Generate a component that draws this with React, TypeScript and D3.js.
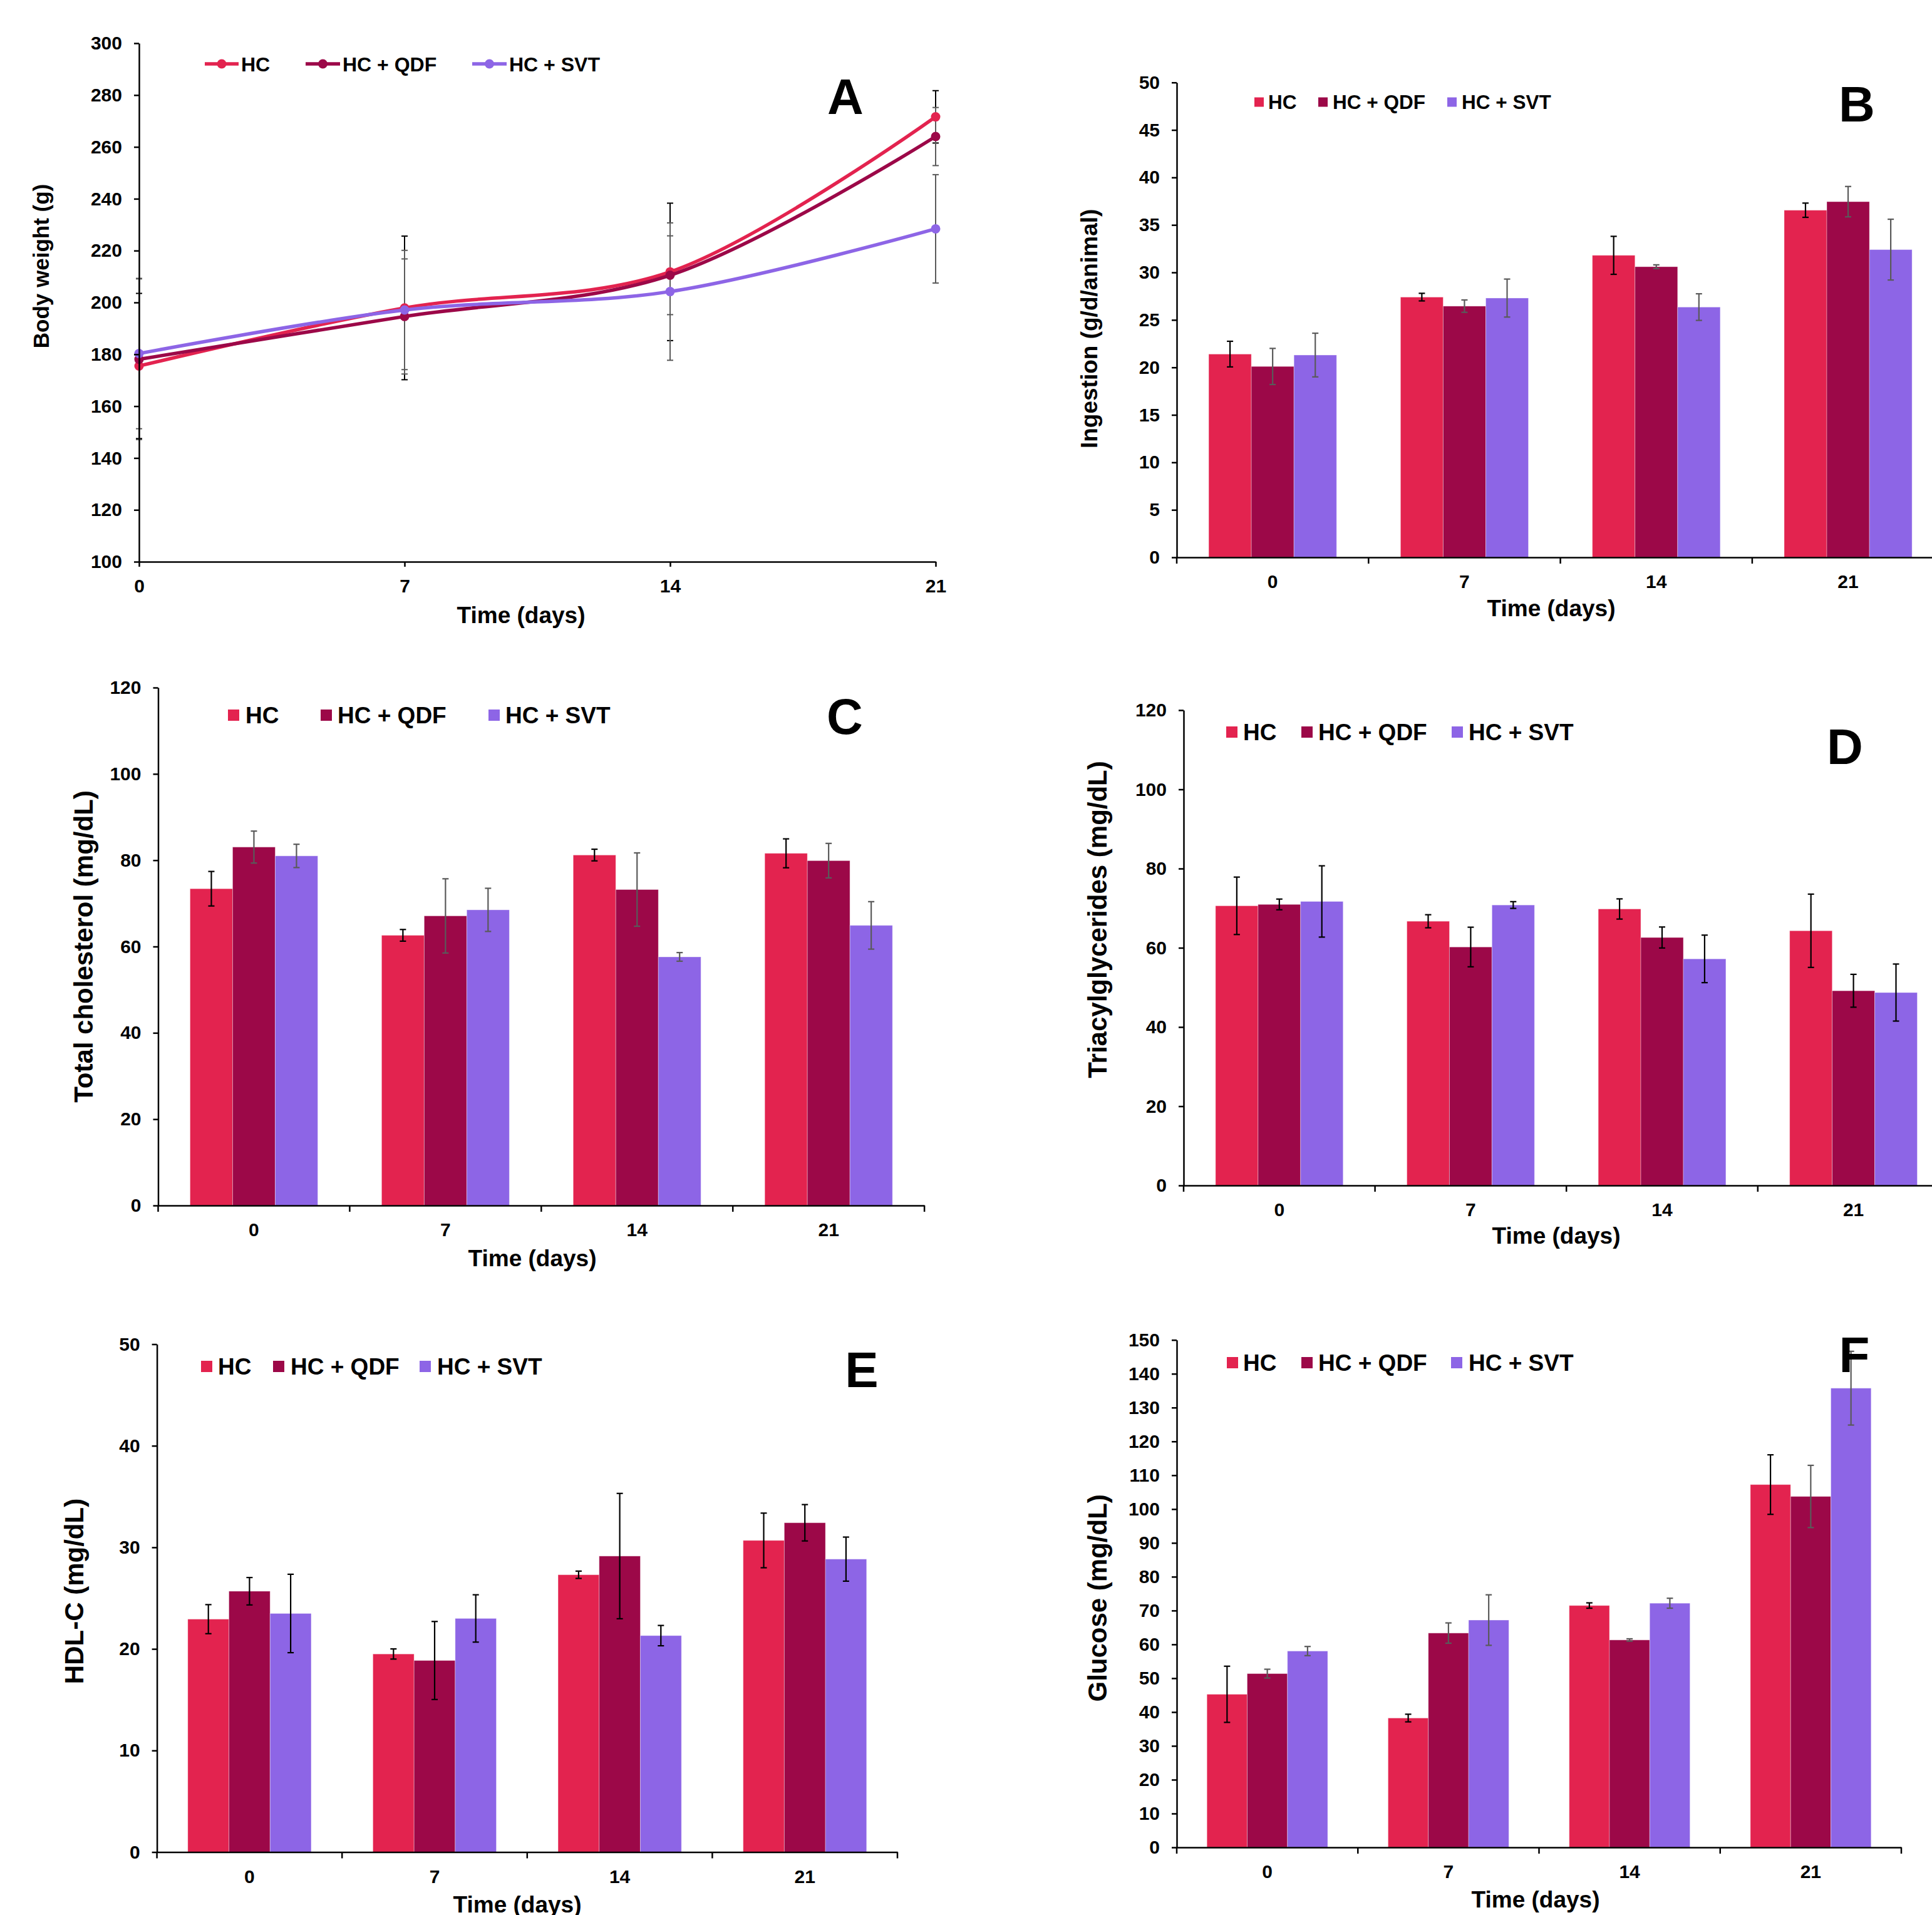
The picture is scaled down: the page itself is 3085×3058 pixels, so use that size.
import * as d3 from 'd3'
import { useEffect, useRef } from 'react'

const days = ['0', '7', '14', '21']
const dayNums = [0, 7, 14, 21]
const groups = ['HC', 'HC + QDF', 'HC + SVT']
const colors = ['#E3234F', '#9C0848', '#8D65E6']

// A - body weight (g)
const weightHC = [175.5, 197.9, 211.8, 271.6]
const weightQDF = [178.1, 194.6, 210.5, 264]
const weightSVT = [180.3, 197.1, 204.2, 228.4]
const weightErrHC = [28, 27.7, 26.5, 10.1]
const weightErrQDF = [31, 22.2, 15.2, 11.2]
const weightErrSVT = [29, 23, 26.5, 20.9]

// B - ingestion (g/d/animal)
const ingHC = [21.4, 27.4, 31.8, 36.55]
const ingQDF = [20.1, 26.45, 30.6, 37.45]
const ingSVT = [21.3, 27.3, 26.35, 32.4]
const ingErrHC = [1.35, 0.4, 2.0, 0.75]
const ingErrQDF = [1.9, 0.65, 0.2, 1.6]
const ingErrSVT = [2.3, 2.0, 1.4, 3.2]

// C - total cholesterol (mg/dL)
const cholHC = [73.4, 62.6, 81.2, 81.6]
const cholQDF = [83.05, 67.1, 73.2, 79.9]
const cholSVT = [81.0, 68.5, 57.6, 64.9]
const cholErrHC = [4.0, 1.35, 1.35, 3.35]
const cholErrQDF = [3.7, 8.6, 8.5, 4.0]
const cholErrSVT = [2.7, 5.0, 1.0, 5.5]

// D - triacylglycerides (mg/dL)
const tagHC = [70.6, 66.7, 69.8, 64.3]
const tagQDF = [70.95, 60.2, 62.6, 49.15]
const tagSVT = [71.7, 70.8, 57.2, 48.7]
const tagErrHC = [7.25, 1.65, 2.55, 9.25]
const tagErrQDF = [1.35, 5.0, 2.65, 4.15]
const tagErrSVT = [9.0, 0.85, 6.0, 7.2]

// E - HDL-C (mg/dL)
const hdlHC = [22.93, 19.5, 27.3, 30.68]
const hdlQDF = [25.68, 18.86, 29.14, 32.42]
const hdlSVT = [23.49, 23.0, 21.31, 28.84]
const hdlErrHC = [1.43, 0.5, 0.36, 2.69]
const hdlErrQDF = [1.35, 3.84, 6.17, 1.79]
const hdlErrSVT = [3.86, 2.33, 1.0, 2.17]

// F - glucose (mg/dL)
const gluHC = [45.25, 38.23, 71.49, 107.24]
const gluQDF = [51.36, 63.35, 61.31, 103.73]
const gluSVT = [58.03, 67.19, 72.17, 135.74]
const gluErrHC = [8.3, 1.13, 0.79, 8.8]
const gluErrQDF = [1.3, 3.0, 0.34, 9.2]
const gluErrSVT = [1.35, 7.47, 1.47, 10.9]

const FONT = '"Liberation Sans", Arial, Helvetica, sans-serif'
const BLACK = '#000'
const GRAY = '#5a5a5a'
const TICK_FONT = 30

function styleAxis(g: any, size: number) {
  g.attr('font-family', FONT).attr('font-size', size).attr('font-weight', 'bold')
  g.selectAll('text').attr('fill', '#000')
  g.selectAll('line').attr('stroke', '#000').attr('stroke-width', 2.5)
  g.select('.domain').attr('stroke', '#000').attr('stroke-width', 2.5)
}

function yTitle(svg: any, text: string, x: number, y: number, size: number) {
  svg
    .append('text')
    .attr('transform', `translate(${x},${y}) rotate(-90)`)
    .attr('text-anchor', 'middle')
    .attr('font-family', FONT)
    .attr('font-weight', 'bold')
    .attr('font-size', size)
    .text(text)
}

function plainText(svg: any, text: string, x: number, y: number, size: number, anchor = 'middle') {
  svg
    .append('text')
    .attr('x', x)
    .attr('y', y)
    .attr('text-anchor', anchor)
    .attr('font-family', FONT)
    .attr('font-weight', 'bold')
    .attr('font-size', size)
    .text(text)
}

function barPanel(svg: any, cfg: any) {
  const x = d3
    .scaleBand()
    .domain(days)
    .range([cfg.left, cfg.left + cfg.band * 4])
    .paddingInner(1 / 3)
    .paddingOuter(1 / 6)
  const x1 = d3.scaleBand().domain(groups).range([0, x.bandwidth()])
  const y = d3.scaleLinear().domain([0, cfg.max]).range([cfg.bottom, cfg.top])
  const g = svg.append('g')

  cfg.series.forEach((vals: number[], j: number) => {
    g.selectAll(null)
      .data(vals)
      .join('rect')
      .attr('x', (_: number, i: number) => x(days[i])! + x1(groups[j])!)
      .attr('y', (d: number) => y(d))
      .attr('width', x1.bandwidth())
      .attr('height', (d: number) => y(0) - y(d))
      .attr('fill', colors[j])
      .attr('stroke', 'rgba(255,255,255,0.35)')
      .attr('stroke-width', 1)
  })

  cfg.series.forEach((vals: number[], j: number) => {
    const errs = cfg.errors[j]
    const cx = (i: number) => x(days[i])! + x1(groups[j])! + x1.bandwidth() / 2
    const eg = g.append('g').attr('stroke', cfg.errColors[j]).attr('stroke-width', 2.2)
    vals.forEach((v, i) => {
      eg.append('line').attr('x1', cx(i)).attr('x2', cx(i)).attr('y1', y(v + errs[i])).attr('y2', y(v - errs[i]))
      eg.append('line').attr('x1', cx(i) - 5).attr('x2', cx(i) + 5).attr('y1', y(v + errs[i])).attr('y2', y(v + errs[i]))
      eg.append('line').attr('x1', cx(i) - 5).attr('x2', cx(i) + 5).attr('y1', y(v - errs[i])).attr('y2', y(v - errs[i]))
    })
  })

  // y axis
  const ya = g
    .append('g')
    .attr('transform', `translate(${cfg.left},0)`)
    .call(
      d3
        .axisLeft(y)
        .tickValues(d3.range(0, cfg.max + cfg.step / 2, cfg.step))
        .tickSize(8)
        .tickSizeOuter(0)
        .tickPadding(19)
    )
  styleAxis(ya, TICK_FONT)

  // x axis
  const xa = g
    .append('g')
    .attr('transform', `translate(0,${cfg.bottom})`)
    .call(d3.axisBottom(x).tickSize(0).tickSizeOuter(0).tickPadding(28))
  styleAxis(xa, TICK_FONT)
  xa.selectAll('.sep')
    .data(d3.range(5))
    .join('line')
    .attr('class', 'sep')
    .attr('x1', (i: number) => cfg.left + i * x.step())
    .attr('x2', (i: number) => cfg.left + i * x.step())
    .attr('y1', 0)
    .attr('y2', 10)
    .attr('stroke', '#000')
    .attr('stroke-width', 2.5)

  yTitle(svg, cfg.yTitle, cfg.yTitleX, (cfg.top + cfg.bottom) / 2 + cfg.yTitleShift, cfg.yTitleSize)
  plainText(svg, 'Time (days)', cfg.xTitleX, cfg.xTitleY, 37)
  plainText(svg, cfg.letter, cfg.letterX, cfg.letterY, 80)

  // legend
  const lg = svg.append('g')
  groups.forEach((name, j) => {
    lg.append('rect')
      .attr('x', cfg.legend.sq[j])
      .attr('y', cfg.legend.y - cfg.legend.size / 2)
      .attr('width', cfg.legend.size)
      .attr('height', cfg.legend.size)
      .attr('fill', colors[j])
    lg.append('text')
      .attr('x', cfg.legend.tx[j])
      .attr('y', cfg.legend.y)
      .attr('dy', '0.36em')
      .attr('font-family', FONT)
      .attr('font-weight', 'bold')
      .attr('font-size', cfg.legend.font)
      .text(name)
  })
}

function linePanel(svg: any) {
  const left = 222
  const right = 1494
  const top = 69
  const bottom = 897
  const x = d3.scaleLinear().domain([0, 21]).range([left, right])
  const y = d3.scaleLinear().domain([100, 300]).range([bottom, top])
  const series = [weightHC, weightQDF, weightSVT]
  const errors = [weightErrHC, weightErrQDF, weightErrSVT]
  const errColors = [BLACK, GRAY, GRAY]
  const g = svg.append('g')

  series.forEach((vals, j) => {
    const eg = g.append('g').attr('stroke', errColors[j]).attr('stroke-width', 2)
    vals.forEach((v, i) => {
      const cx = x(dayNums[i])
      const e = errors[j][i]
      eg.append('line').attr('x1', cx).attr('x2', cx).attr('y1', y(v + e)).attr('y2', y(v - e))
      eg.append('line').attr('x1', cx - 5).attr('x2', cx + 5).attr('y1', y(v + e)).attr('y2', y(v + e))
      eg.append('line').attr('x1', cx - 5).attr('x2', cx + 5).attr('y1', y(v - e)).attr('y2', y(v - e))
    })
  })

  const line = d3
    .line<number>()
    .x((_, i) => x(dayNums[i]))
    .y((d) => y(d))
    .curve(d3.curveCatmullRom.alpha(0.5))

  series.forEach((vals, j) => {
    g.append('path')
      .datum(vals)
      .attr('d', line)
      .attr('fill', 'none')
      .attr('stroke', colors[j])
      .attr('stroke-width', 5.5)
    g.selectAll(null)
      .data(vals)
      .join('circle')
      .attr('cx', (_: number, i: number) => x(dayNums[i]))
      .attr('cy', (d: number) => y(d))
      .attr('r', 7.5)
      .attr('fill', colors[j])
  })

  const ya = g
    .append('g')
    .attr('transform', `translate(${left},0)`)
    .call(d3.axisLeft(y).tickValues(d3.range(100, 301, 20)).tickSize(8).tickSizeOuter(0).tickPadding(19))
  styleAxis(ya, TICK_FONT)

  const xa = g
    .append('g')
    .attr('transform', `translate(0,${bottom})`)
    .call(d3.axisBottom(x).tickValues(dayNums).tickSize(8).tickSizeOuter(0).tickPadding(20))
  styleAxis(xa, TICK_FONT)

  yTitle(svg, 'Body weight (g)', 78, 425, 35)
  plainText(svg, 'Time (days)', 832, 995, 37)
  plainText(svg, 'A', 1350, 182, 80)

  const legLines = [
    [327, 381, 385],
    [488, 543, 547],
    [754, 809, 813],
  ]
  const ly = 102
  groups.forEach((name, j) => {
    const [x1, x2, tx] = legLines[j]
    svg.append('line').attr('x1', x1).attr('x2', x2).attr('y1', ly).attr('y2', ly).attr('stroke', colors[j]).attr('stroke-width', 5.5)
    svg.append('circle').attr('cx', (x1 + x2) / 2).attr('cy', ly).attr('r', 7.5).attr('fill', colors[j])
    svg.append('text')
      .attr('x', tx)
      .attr('y', ly)
      .attr('dy', '0.36em')
      .attr('font-family', FONT)
      .attr('font-weight', 'bold')
      .attr('font-size', 32)
      .text(name)
  })
}

const App = () => {
  const ref = useRef<SVGSVGElement | null>(null)

  useEffect(() => {
    if (!ref.current) return
    const svg = d3.select(ref.current)
    svg.selectAll('*').remove()
    svg.append('rect').attr('width', 3085).attr('height', 3058).attr('fill', '#fff')

    linePanel(svg)

    barPanel(svg, {
      left: 1879, band: 306.3, top: 131.7, bottom: 890, max: 50, step: 5,
      series: [ingHC, ingQDF, ingSVT],
      errors: [ingErrHC, ingErrQDF, ingErrSVT],
      errColors: [BLACK, GRAY, GRAY],
      yTitle: 'Ingestion (g/d/animal)', yTitleX: 1752, yTitleShift: 14, yTitleSize: 37,
      xTitleX: 2477, xTitleY: 984, letter: 'B', letterX: 2965, letterY: 194,
      legend: { sq: [2003, 2105, 2311], tx: [2025, 2128, 2334], y: 163, size: 15, font: 31.5 },
    })

    barPanel(svg, {
      left: 252.5, band: 305.9, top: 1098, bottom: 1925, max: 120, step: 20,
      series: [cholHC, cholQDF, cholSVT],
      errors: [cholErrHC, cholErrQDF, cholErrSVT],
      errColors: [BLACK, GRAY, GRAY],
      yTitle: 'Total cholesterol (mg/dL)', yTitleX: 148, yTitleShift: 0, yTitleSize: 42,
      xTitleX: 850, xTitleY: 2022, letter: 'C', letterX: 1349, letterY: 1172,
      legend: { sq: [364, 512, 780], tx: [392, 539, 807], y: 1142, size: 18, font: 37 },
    })

    barPanel(svg, {
      left: 1890, band: 305.6, top: 1134, bottom: 1893, max: 120, step: 20,
      series: [tagHC, tagQDF, tagSVT],
      errors: [tagErrHC, tagErrQDF, tagErrSVT],
      errColors: [BLACK, BLACK, BLACK],
      yTitle: 'Triacylglycerides (mg/dL)', yTitleX: 1767, yTitleShift: -45, yTitleSize: 42,
      xTitleX: 2485, xTitleY: 1986, letter: 'D', letterX: 2946, letterY: 1220,
      legend: { sq: [1958, 2078, 2318], tx: [1985, 2105, 2345], y: 1169, size: 18, font: 37 },
    })

    barPanel(svg, {
      left: 250.6, band: 295.6, top: 2146.5, bottom: 2957.5, max: 50, step: 10,
      series: [hdlHC, hdlQDF, hdlSVT],
      errors: [hdlErrHC, hdlErrQDF, hdlErrSVT],
      errColors: [BLACK, BLACK, BLACK],
      yTitle: 'HDL-C (mg/dL)', yTitleX: 133, yTitleShift: -11, yTitleSize: 42,
      xTitleX: 826, xTitleY: 3054, letter: 'E', letterX: 1376, letterY: 2215,
      legend: { sq: [321, 436, 670], tx: [348, 464, 698], y: 2182, size: 18, font: 37 },
    })

    barPanel(svg, {
      left: 1879, band: 289.25, top: 2139.7, bottom: 2950, max: 150, step: 10,
      series: [gluHC, gluQDF, gluSVT],
      errors: [gluErrHC, gluErrQDF, gluErrSVT],
      errColors: [BLACK, GRAY, GRAY],
      yTitle: 'Glucose (mg/dL)', yTitleX: 1767, yTitleShift: 7, yTitleSize: 42,
      xTitleX: 2452, xTitleY: 3046, letter: 'F', letterX: 2961, letterY: 2191,
      legend: { sq: [1959, 2078, 2317], tx: [1985, 2105, 2345], y: 2176, size: 18, font: 37 },
    })
  }, [])

  return (
    <div style={{ position: 'absolute', left: 0, top: 0 }}>
      <svg ref={ref} width={3085} height={3058} style={{ display: 'block' }} />
    </div>
  )
}

export default App
